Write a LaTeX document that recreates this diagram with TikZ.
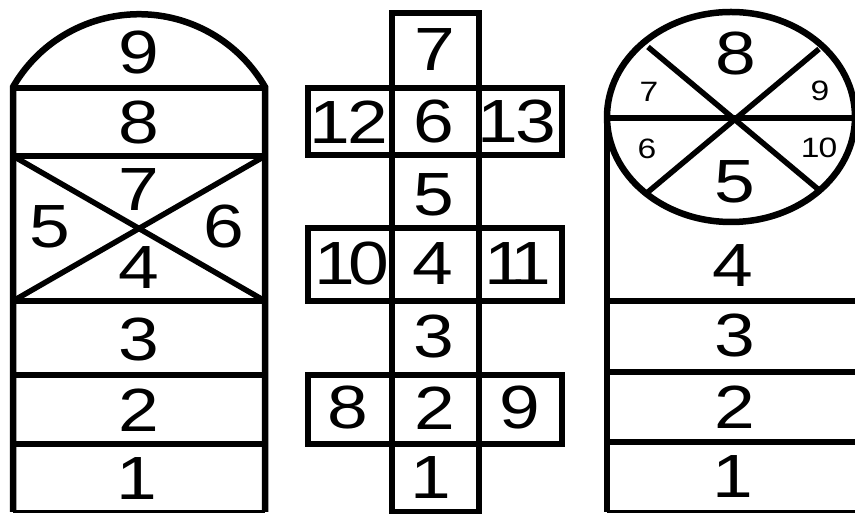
\documentclass[tikz,border=0pt]{standalone}
\usepackage{fontspec}
\newfontfamily\dig[FakeStretch=1.2]{Liberation Sans}
\begin{document}
\begin{tikzpicture}[x=1pt,y=1pt,
  ln/.style={line width=6.5pt,line join=miter},
  dg/.style={line width=5.5pt},
  base/.style={line width=3pt},
  big/.style={inner sep=0pt,font=\dig\fontsize{61}{61}\selectfont},
  sml/.style={inner sep=0pt,font=\dig\fontsize{28}{28}\selectfont}]
\useasboundingbox (0,0) rectangle (855,514);
% ---------- left figure ----------
\draw[ln] (13,2) -- (13,427) arc[start angle=150,end angle=30,radius=145.5] -- (265,2);
\foreach \yy in {426,358,213,139,70} \draw[ln] (13,\yy) -- (265,\yy);
\draw[base] (13,2) -- (265,2);
\draw[dg] (13,358) -- (265,213);
\draw[dg] (265,358) -- (13,213);
\node[big] (l9) at (139,461) {9};
\node[big] (l8) at (139,391) {8};
\node[big] (l7) at (139,324) {7};
\node[big] (l5) at (50,287) {5};
\node[big] (l6) at (224,287) {6};
\node[big] (l4) at (139,246) {4};
\node[big] (l3) at (139,174) {3};
\node[big] (l2) at (139,104) {2};
\node[big] (l1) at (137,35) {1};
% ---------- middle figure ----------
\draw[ln] (392,2) rectangle (479,501);
\foreach \yy in {426,359,286,213,139,70} \draw[ln] (392,\yy) -- (479,\yy);
\draw[ln] (308,359) rectangle (562,426);
\draw[ln] (308,213) rectangle (562,286);
\draw[ln] (308,70) rectangle (562,139);
\draw[base] (392,2) -- (479,2);
\node[big] (m7) at (435,464) {7};
\node[big] (m12) at (349,392) {1\kern-3pt 2};
\node[big] (m6) at (434,392) {6};
\node[big] (m13) at (517,392) {1\kern-3pt 3};
\node[big] (m5) at (434,319) {5};
\node[big] (m10) at (352,250) {1\kern-7pt 0};
\node[big] (m4) at (433,250) {4};
\node[big] (m11) at (518,250) {1\kern-15pt 1};
\node[big] (m3) at (434,177) {3};
\node[big] (m8) at (348,106) {8};
\node[big] (m2) at (435,106) {2};
\node[big] (m9) at (520,106) {9};
\node[big] (m1) at (431,36) {1};
% ---------- right figure ----------
\draw[ln] (731,397) ellipse[x radius=124,y radius=105];
\draw[ln] (607,396) -- (855,396);
\draw[ln] (607,396) -- (607,2);
\foreach \yy in {213,142,72} \draw[ln] (607,\yy) -- (855,\yy);
\draw[base] (607,2) -- (855,2);
\draw[dg] (648,467) -- (819,324);
\draw[dg] (819,465) -- (648,322);
\node[big] (r8) at (736,460) {8};
\node[sml] (r7) at (649,422) {7};
\node[sml] (r9) at (820,423) {9};
\node[sml] (r6) at (647,365) {6};
\node[sml] (r10) at (819,366) {1\kern-1pt 0};
\node[big] (r5) at (735,332) {5};
\node[big] (r4) at (733,248) {4};
\node[big] (r3) at (735,178) {3};
\node[big] (r2) at (735,107) {2};
\node[big] (r1) at (733,37) {1};
\end{tikzpicture}
\end{document}
